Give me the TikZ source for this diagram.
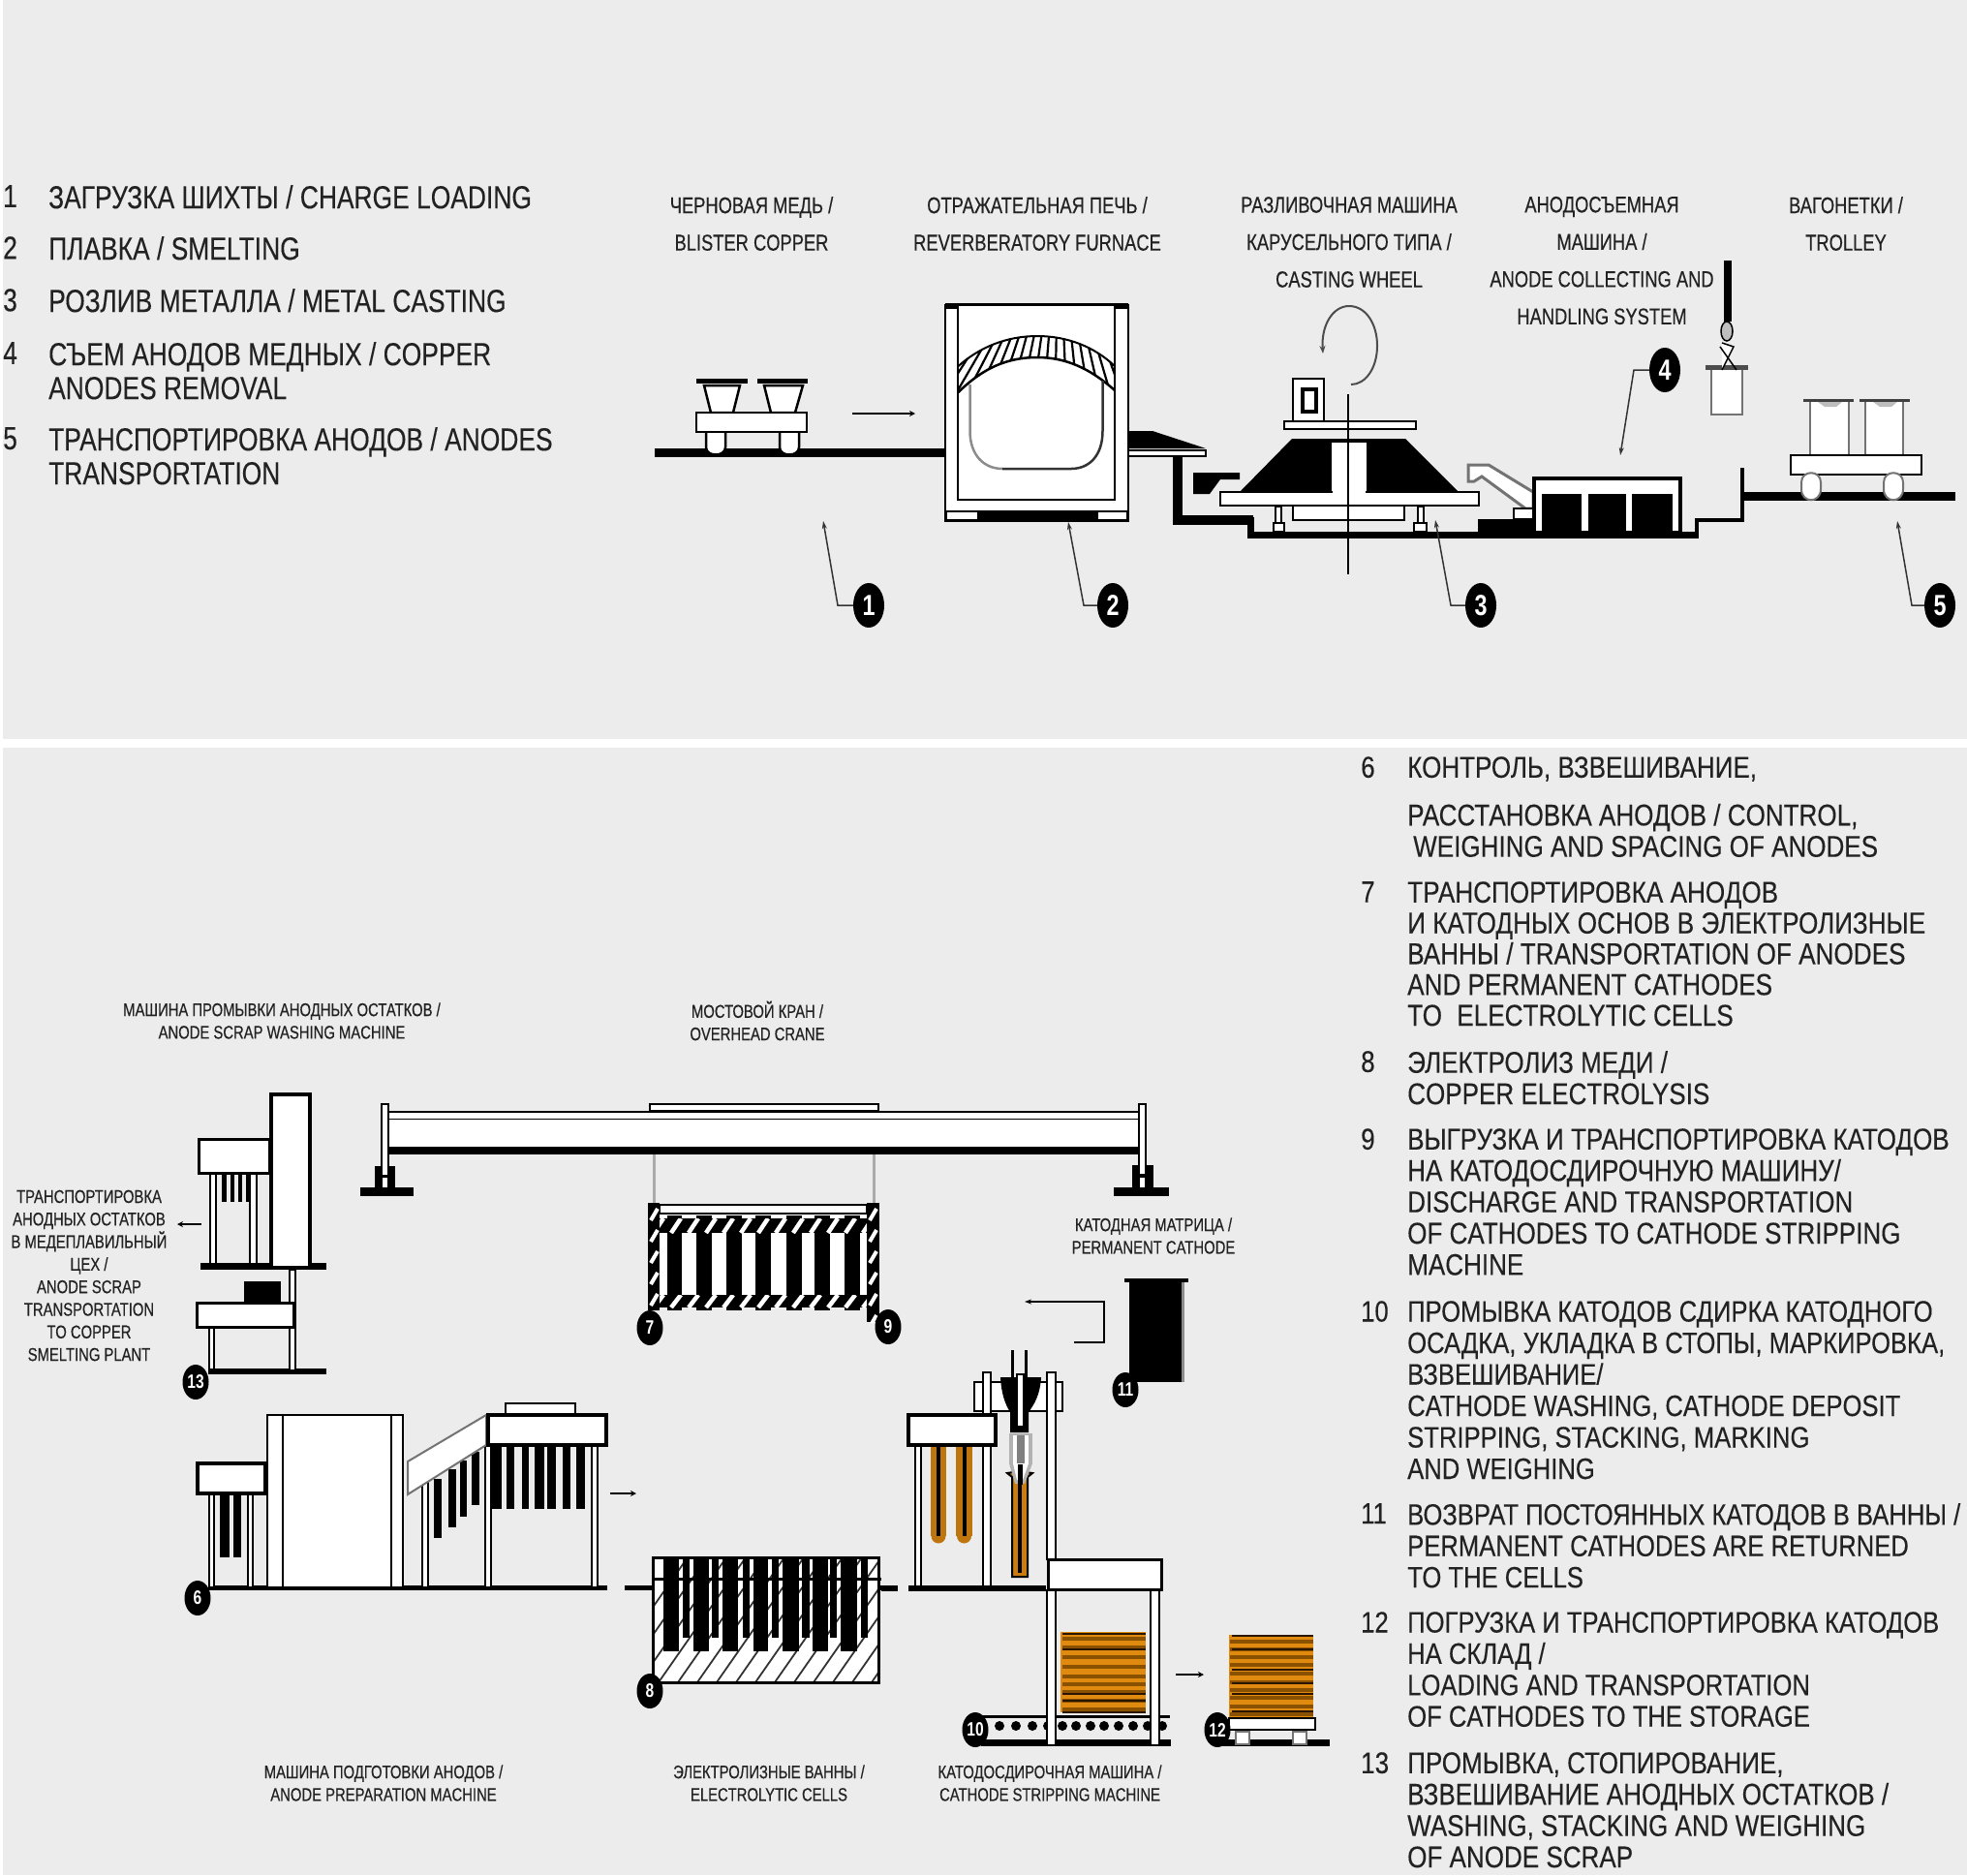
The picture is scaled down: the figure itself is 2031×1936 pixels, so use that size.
\documentclass[tikz,border=0pt]{standalone}
\usepackage{fontspec}
\setmainfont{Liberation Sans}[FakeStretch=0.78]
\newfontfamily\toplistfont{Liberation Sans}[FakeStretch=0.80, FakeBold=0.2]
\newfontfamily\listfont{Liberation Sans}[FakeStretch=0.84, FakeBold=0.2]
\newfontfamily\capfont{Liberation Sans}[FakeStretch=0.78, FakeBold=0.4]
\usepackage{xcolor}
\usepackage{tikz}
\usetikzlibrary{shapes.geometric, arrows.meta, positioning}
\definecolor{panel}{HTML}{ECECEC}
\definecolor{inktext}{HTML}{222222}
\definecolor{copper}{HTML}{E08A10}
\definecolor{copperdark}{HTML}{8A5200}
\definecolor{copperblack}{HTML}{2A1500}
\definecolor{railgray}{HTML}{AAAAAA}

\begin{document}
\begin{tikzpicture}[x=1pt, y=-1pt,
    listtxt/.style = {anchor=north west, inner sep=0pt, align=left, text=inktext,
                      font=\listfont\fontsize{31}{32.4}\selectfont},
    listtight/.style = {listtxt, font=\listfont\fontsize{30.5}{32.4}\selectfont},
    toplist/.style = {listtxt, font=\toplistfont\fontsize{33}{35}\selectfont},
    captop/.style  = {inner sep=0pt, align=center, text=inktext,
                      font=\capfont\fontsize{23.5}{38.5}\selectfont},
    capbot/.style  = {inner sep=0pt, align=center, text=inktext,
                      font=\capfont\fontsize{19}{23.3}\selectfont},
    ball/.style    = {ellipse, fill=black, text=white, inner sep=0pt, minimum width=27pt,
                      minimum height=36pt, font=\fontsize{20}{20}\selectfont\bfseries},
    bigball/.style = {ball, minimum width=32pt, minimum height=46pt,
                      font=\fontsize{30}{30}\selectfont\bfseries},
    part/.style    = {draw=black, line width=4pt, fill=white},
    thinpart/.style= {draw=black, line width=2.5pt, fill=white},
    softpart/.style= {draw=black!55, line width=2pt, fill=white},
    blk/.style     = {fill=black},
    lead/.style    = {draw=black!80, line width=1.5pt, -{Stealth[length=8pt,width=5pt]}},
    flow/.style    = {draw=black, line width=2.5pt, -{Stealth[length=6pt,width=6pt]}}
  ]
  \useasboundingbox (0,0) rectangle (2031,1936);

  % -- Panels -----------------------------------------------------------------
  \fill[white] (0,0) rectangle (2031,1936);
  \fill[panel] (3,0) rectangle (2031,763);
  \fill[panel] (3,772) rectangle (2031,1936);

  % -- List 1-5 ---------------------------------------------------------------
  \node[toplist] (n1) at (3,191) {1};
  \node[toplist] (l1) at (50,191) {ЗАГРУЗКА ШИХТЫ / CHARGE LOADING};
  \node[toplist] (n2) at (3,244) {2};
  \node[toplist] (l2) at (50,244) {ПЛАВКА / SMELTING};
  \node[toplist] (n3) at (3,298) {3};
  \node[toplist] (l3) at (50,298) {РОЗЛИВ МЕТАЛЛА / METAL CASTING};
  \node[toplist] (n4) at (3,353) {4};
  \node[toplist] (l4) at (50,353) {СЪЕМ АНОДОВ МЕДНЫХ / COPPER\\ANODES REMOVAL};
  \node[toplist] (n5) at (3,441) {5};
  \node[toplist] (l5) at (50,441) {ТРАНСПОРТИРОВКА АНОДОВ / ANODES\\TRANSPORTATION};

  % -- List 6-13 --------------------------------------------------------------
  \node[listtxt] (n6) at (1405,781) {6};
  \node[listtxt] (l6) at (1453,781) {КОНТРОЛЬ, ВЗВЕШИВАНИЕ,\\[17pt]РАССТАНОВКА АНОДОВ / CONTROL,\\\hspace{6pt}WEIGHING AND SPACING OF ANODES};
  \node[listtxt] (n7) at (1405,910) {7};
  \node[listtxt, font=\listfont\fontsize{31.1}{31.8}\selectfont] (l7) at (1453,910) {ТРАНСПОРТИРОВКА АНОДОВ\\И КАТОДНЫХ ОСНОВ В ЭЛЕКТРОЛИЗНЫЕ\\ВАННЫ / TRANSPORTATION OF ANODES\\AND PERMANENT CATHODES\\TO\hspace{8pt} ELECTROLYTIC CELLS};
  \node[listtxt] (n8) at (1405,1085) {8};
  \node[listtxt] (l8) at (1453,1085) {ЭЛЕКТРОЛИЗ МЕДИ /\\COPPER ELECTROLYSIS};
  \node[listtxt] (n9) at (1405,1165) {9};
  \node[listtxt] (l9) at (1453,1165) {ВЫГРУЗКА И ТРАНСПОРТИРОВКА КАТОДОВ\\НА КАТОДОСДИРОЧНУЮ МАШИНУ/\\DISCHARGE AND TRANSPORTATION\\OF CATHODES TO CATHODE STRIPPING\\MACHINE};
  \node[listtight] (n10) at (1405,1343) {10};
  \node[listtxt, font=\listfont\fontsize{30.5}{32.5}\selectfont] (l10) at (1453,1343) {ПРОМЫВКА КАТОДОВ СДИРКА КАТОДНОГО\\ОСАДКА, УКЛАДКА В СТОПЫ, МАРКИРОВКА,\\ВЗВЕШИВАНИЕ/\\CATHODE WASHING, CATHODE DEPOSIT\\STRIPPING, STACKING, MARKING\\AND WEIGHING};
  \node[listtight] (n11) at (1405,1552) {11};
  \node[listtight] (l11) at (1453,1552) {ВОЗВРАТ ПОСТОЯННЫХ КАТОДОВ В ВАННЫ /\\PERMANENT CATHODES ARE RETURNED\\TO THE CELLS};
  \node[listtight] (n12) at (1405,1664) {12};
  \node[listtight] (l12) at (1453,1664) {ПОГРУЗКА И ТРАНСПОРТИРОВКА КАТОДОВ\\НА СКЛАД /\\LOADING AND TRANSPORTATION\\OF CATHODES TO THE STORAGE};
  \node[listtxt] (n13) at (1405,1809) {13};
  \node[listtxt] (l13) at (1453,1809) {ПРОМЫВКА, СТОПИРОВАНИЕ,\\ВЗВЕШИВАНИЕ АНОДНЫХ ОСТАТКОВ /\\WASHING, STACKING AND WEIGHING\\OF ANODE SCRAP};

  % -- Top captions -----------------------------------------------------------
  \node[captop] (capblister) at (776,231) {ЧЕРНОВАЯ МЕДЬ /\\BLISTER COPPER};
  \node[captop] (capfurnace) at (1071,231) {ОТРАЖАТЕЛЬНАЯ ПЕЧЬ /\\REVERBERATORY FURNACE};
  \node[captop] (capwheel) at (1393,250) {РАЗЛИВОЧНАЯ МАШИНА\\КАРУСЕЛЬНОГО ТИПА /\\CASTING WHEEL};
  \node[captop] (capcollect) at (1654,269) {АНОДОСЪЕМНАЯ\\МАШИНА /\\ANODE COLLECTING AND\\HANDLING SYSTEM};
  \node[captop] (captrolley) at (1906,231) {ВАГОНЕТКИ /\\TROLLEY};

  % -- Blister copper trolley -------------------------------------------------
  \fill[blk] (676,463) rectangle (976,472);
  \draw[thinpart] (729,447) .. controls (729,441) and (749,441) .. (749,447) -- (749,462) .. controls (749,472) and (729,472) .. (729,462) -- cycle;
  \draw[thinpart] (805,447) .. controls (805,441) and (825,441) .. (825,447) -- (825,462) .. controls (825,472) and (805,472) .. (805,462) -- cycle;
  \draw[thinpart] (727,398) -- (734,426) -- (757,426) -- (764,398) -- cycle;
  \draw[thinpart] (789,398) -- (796,426) -- (821,426) -- (829,398) -- cycle;
  \fill[blk] (719,391) rectangle (772,396);
  \fill[blk] (782,391) rectangle (834,396);
  \draw[thinpart] (719,426) rectangle (833,446);
  \coordinate (a1s) at (880,427);
  \coordinate (a1e) at (945,427);
  \draw[flow] (a1s) -- (a1e);

  % -- Reverberatory furnace --------------------------------------------------
  \draw[thinpart] (976,315) rectangle (1165,538);
  \fill[blk] (976,313) rectangle (1165,319);
  \draw[thinpart] (989,315) rectangle (1151,516);
  \fill[blk] (976,527) rectangle (1165,538);
  \fill[white] (978,529) rectangle (1009,536);
  \fill[white] (1134,529) rectangle (1163,536);
  \begin{scope}
    \clip (989.5,378) .. controls (1012,358) and (1040,347) .. (1071,347) .. controls (1102,347) and (1130,358) .. (1151,378) -- (1151,403) .. controls (1125,380) and (1100,369) .. (1071,369) .. controls (1040,369) and (1015,380) .. (989.5,405) -- cycle;
    \foreach \k in {950,960,...,1190}
      \draw[black, line width=2.2pt] (1093,224) -- ({1093+(\k-1093)*1.4},{224+224});
  \end{scope}
  \draw[black, line width=2pt] (989.5,378) .. controls (1012,358) and (1040,347) .. (1071,347) .. controls (1102,347) and (1130,358) .. (1151,378);
  \fill[white] (1001.5,397) .. controls (1020,380) and (1045,369) .. (1071,369) .. controls (1097,369) and (1120,380) .. (1138.5,393) -- (1138.5,445) .. controls (1138.5,470) and (1125,484) .. (1106,484) -- (1035,484) .. controls (1016,484) and (1001.5,470) .. (1001.5,445) -- cycle;
  \draw[black, line width=2.5pt] (989.5,405) .. controls (1015,380) and (1040,369) .. (1071,369) .. controls (1100,369) and (1125,380) .. (1151,403);
  \draw[black!45, line width=2.5pt] (1001.5,397) -- (1001.5,445) .. controls (1001.5,470) and (1016,484) .. (1035,484);
  \draw[black!80, line width=2.5pt] (1035,484) -- (1106,484) .. controls (1125,484) and (1138.5,470) .. (1138.5,445) -- (1138.5,393);

  % -- Launder and floor ------------------------------------------------------
  \fill[blk] (1165,445) -- (1190,445) -- (1245,463) -- (1165,463) -- cycle;
  \draw[thinpart, line width=2pt] (1165,465) rectangle (1245,471);
  \draw[black, line width=10pt] (1216,472) -- (1216,537) -- (1294,537);
  \draw[black, line width=7pt] (1291,534) -- (1291,552) -- (1754,552);
  \draw[black, line width=4pt] (1752,552) -- (1752,537) -- (1799,537) -- (1799,483);
  \fill[blk] (1232,488) -- (1280,488) -- (1280,495) -- (1260,495) -- (1249,510) -- (1232,510) -- cycle;
  \fill[blk] (1799,508) rectangle (2019,517);

  % -- Casting wheel ----------------------------------------------------------
  \fill[blk] (1280,508) -- (1334,453) -- (1451,453) -- (1506,508) -- cycle;
  \fill[white] (1375,457) rectangle (1411,508);
  \draw[thinpart] (1335,522) rectangle (1450,537);
  \draw[thinpart] (1260,508) rectangle (1527,522);
  \fill[white] (1376,505) rectangle (1410,511);
  \draw[thinpart, line width=2pt] (1317,523) rectangle (1323,540);
  \draw[thinpart, line width=2pt] (1464,523) rectangle (1470,540);
  \draw[thinpart, line width=2pt] (1315,540) rectangle (1326,549);
  \draw[thinpart, line width=2pt] (1460,540) rectangle (1473,549);
  \draw[thinpart, line width=2pt] (1326,435) rectangle (1462,443);
  \draw[thinpart, line width=2pt] (1335,391) rectangle (1367,435);
  \draw[black, line width=4pt, fill=white] (1345,402) rectangle (1359,425);
  \coordinate (axtop) at (1392,407);
  \coordinate (axbot) at (1392,593);
  \draw[black, line width=1.5pt] (axtop) -- (axbot);
  \draw[draw=black!70, line width=2pt, -{Stealth[length=8pt,width=6pt]}] (1395,397) .. controls (1410,397) and (1422,380) .. (1422,357) .. controls (1422,334) and (1410,316) .. (1393,316) .. controls (1376,316) and (1364,336) .. (1366,365);

  % -- Anode collecting machine -----------------------------------------------
  \fill[blk] (1526,536) rectangle (1585,550);
  \draw[softpart, line width=3pt] (1516,480) -- (1537,480) -- (1583,508) -- (1583,525) -- (1575,525) -- (1530,492) -- (1522,497) -- (1516,497) -- cycle;
  \draw[thinpart] (1563,525) rectangle (1583,536);
  \draw[thinpart, line width=3.5pt] (1584,494) rectangle (1735,550);
  \fill[blk] (1592,510) rectangle (1633,550);
  \fill[blk] (1640,510) rectangle (1679,550);
  \fill[blk] (1685,510) rectangle (1727,550);

  % -- Hook and ladle ---------------------------------------------------------
  \fill[blk] (1780,269) rectangle (1788,332);
  \draw[softpart, line width=2pt] (1767,380) -- (1767,428) -- (1799,428) -- (1799,380) -- cycle;
  \fill[black!70] (1761,377) rectangle (1805,382);
  \draw[black, line width=1.5pt, fill=white] (1778,382) -- (1790,358) -- (1778,354);
  \draw[black, line width=1.5pt] (1793,382) -- (1776,358);
  \draw[black, line width=1.5pt, fill=black!25] (1783,342) ellipse [x radius=6pt, y radius=10pt];

  % -- Anode trolley ----------------------------------------------------------
  \draw[softpart] (1869,414) -- (1869,475) -- (1909,475) -- (1909,414) -- cycle;
  \draw[softpart] (1926,414) -- (1926,475) -- (1965,475) -- (1965,414) -- cycle;
  \fill[black!75] (1862,412) rectangle (1914,415);
  \fill[black!75] (1920,412) rectangle (1972,415);
  \fill[panel!80!black] (1877,415) -- (1884,420) -- (1896,420) -- (1902,415) -- cycle;
  \fill[panel!80!black] (1934,415) -- (1941,420) -- (1953,420) -- (1959,415) -- cycle;
  \draw[thinpart] (1849,470) rectangle (1984,490);
  \draw[softpart] (1860,498) .. controls (1860,485) and (1880,485) .. (1880,498) -- (1880,505) .. controls (1880,520) and (1860,520) .. (1860,505) -- cycle;
  \draw[softpart] (1945,498) .. controls (1945,485) and (1965,485) .. (1965,498) -- (1965,505) .. controls (1965,520) and (1945,520) .. (1945,505) -- cycle;

  % -- Callouts 1-5 -----------------------------------------------------------
  \node[bigball] (b1) at (897,625) {1};
  \coordinate (t1) at (850,538);
  \draw[lead] (b1.west) -- (865,625) -- (t1);
  \node[bigball] (b2) at (1149,625) {2};
  \coordinate (t2) at (1103,539);
  \draw[lead] (b2.west) -- (1119,625) -- (t2);
  \node[bigball] (b3) at (1529,625) {3};
  \coordinate (t3) at (1482,537);
  \draw[lead] (b3.west) -- (1498,625) -- (t3);
  \node[bigball] (b4) at (1719,382) {4};
  \coordinate (t4) at (1673,470);
  \draw[lead] (b4.west) -- (1687,382) -- (t4);
  \node[bigball] (b5) at (2003,625) {5};
  \coordinate (t5) at (1959,538);
  \draw[lead] (b5.west) -- (1974,625) -- (t5);

  % -- Bottom captions --------------------------------------------------------
  \node[capbot] (capwash) at (291,1054) {МАШИНА ПРОМЫВКИ АНОДНЫХ ОСТАТКОВ /\\ANODE SCRAP WASHING MACHINE};
  \node[capbot] (capcrane) at (782,1054) {МОСТОВОЙ КРАН /\\OVERHEAD CRANE};
  \node[capbot] (capcath) at (1191,1276) {КАТОДНАЯ МАТРИЦА /\\PERMANENT CATHODE};
  \node[capbot] (capprep) at (396,1841) {МАШИНА ПОДГОТОВКИ АНОДОВ /\\ANODE PREPARATION MACHINE};
  \node[capbot] (capcells) at (794,1841) {ЭЛЕКТРОЛИЗНЫЕ ВАННЫ /\\ELECTROLYTIC CELLS};
  \node[capbot] (capstrip) at (1084,1841) {КАТОДОСДИРОЧНАЯ МАШИНА /\\CATHODE STRIPPING MACHINE};
  \node[capbot] (capscrap) at (92,1317) {ТРАНСПОРТИРОВКА\\АНОДНЫХ ОСТАТКОВ\\В МЕДЕПЛАВИЛЬНЫЙ\\ЦЕХ /\\ANODE SCRAP\\TRANSPORTATION\\TO COPPER\\SMELTING PLANT};

  % -- Anode scrap washing machine --------------------------------------------
  \fill[blk] (207,1304) rectangle (337,1311);
  \fill[blk] (215,1413) rectangle (337,1419);
  \draw[thinpart] (217,1211) rectangle (223,1305);
  \draw[thinpart] (258,1211) rectangle (265,1305);
  \foreach \a/\b in {229/234, 238/242, 246/250, 254/257}
    \fill[blk] (\a,1212) rectangle (\b,1241);
  \draw[part, line width=3pt] (205,1176) rectangle (278,1211);
  \draw[part] (280,1130) rectangle (320,1309);
  \draw[thinpart] (299,1311) rectangle (305,1415);
  \fill[blk] (252,1323) rectangle (290,1344);
  \draw[thinpart] (216,1370) rectangle (221,1414);
  \draw[part, line width=3pt] (203,1345) rectangle (303,1370);
  \node[ball] (b13) at (202,1427) {13};
  \coordinate (a13s) at (208,1264);
  \coordinate (a13e) at (183,1264);
  \draw[flow] (a13s) -- (a13e);

  % -- Overhead crane ---------------------------------------------------------
  \draw[thinpart, line width=2pt] (671,1140) rectangle (907,1147);
  \draw[black, line width=2.5pt, fill=white] (400,1148) rectangle (1177,1156);
  \fill[white] (400,1156) rectangle (1177,1185);
  \fill[blk] (400,1184) rectangle (1177,1192);
  \fill[blk] (387,1204) rectangle (408,1226);
  \fill[blk] (372,1226) rectangle (427,1235);
  \fill[blk] (1169,1203) rectangle (1191,1226);
  \fill[blk] (1150,1226) rectangle (1207,1235);
  \draw[thinpart, line width=2.5pt] (394,1140) rectangle (401,1214);
  \draw[thinpart, line width=2.5pt] (1176,1140) rectangle (1183,1213);
  \fill[white] (395,1216) rectangle (400,1226);
  \fill[white] (1177,1216) rectangle (1182,1226);
  \draw[railgray, line width=3pt] (675,1192) -- (675,1242);
  \draw[railgray, line width=3pt] (902,1192) -- (902,1242);

  % -- Hanging rack -----------------------------------------------------------
  \fill[white] (681,1253) rectangle (895,1350);
  \foreach \a/\b in {689/704, 719/735, 750/766, 780/796, 812/827.5, 841/857, 872/888}
    \fill[blk] (\a,1255) rectangle (\b,1353);
  \draw[thinpart, line width=2.5pt] (681,1244) rectangle (895,1253);
  \begin{scope}
    \clip (669,1258) rectangle (908,1273);
    \fill[blk] (669,1258) rectangle (908,1273);
    \foreach \k in {675,693,...,900}
      \draw[white, line width=4.5pt] (\k,1273) -- (\k+10,1258);
  \end{scope}
  \begin{scope}
    \clip (669,1337) rectangle (908,1350);
    \fill[blk] (669,1337) rectangle (908,1350);
    \foreach \k in {675,693,...,900}
      \draw[white, line width=4.5pt] (\k,1350) -- (\k+10,1337);
  \end{scope}
  \begin{scope}
    \clip (669,1242) rectangle (681,1353);
    \fill[blk] (669,1242) rectangle (681,1353);
    \foreach \k in {1252,1274,...,1352}
      \draw[white, line width=4pt] (672,\k+8) -- (679,\k-4);
  \end{scope}
  \begin{scope}
    \clip (895,1242) rectangle (908,1365);
    \fill[blk] (895,1242) rectangle (908,1365);
    \foreach \k in {1252,1274,...,1362}
      \draw[white, line width=4pt] (898,\k+8) -- (905,\k-4);
  \end{scope}
  \node[ball] (b7) at (671,1371) {7};
  \node[ball] (b9) at (917,1370) {9};

  % -- Permanent cathode ------------------------------------------------------
  \fill[black!45] (1219,1324) rectangle (1223,1427);
  \fill[blk] (1166,1323) rectangle (1220,1427);
  \fill[blk] (1161,1320) rectangle (1227,1324);
  \node[ball] (b11) at (1162,1435) {11};
  \coordinate (brs) at (1109,1386);
  \coordinate (bre) at (1058,1344);
  \draw[black, line width=2pt, -{Stealth[length=7pt,width=5pt]}] (brs) -| (1140,1344) -- (bre);

  % -- Anode preparation machine ----------------------------------------------
  \fill[blk] (215,1637) rectangle (627,1642);
  \draw[thinpart, line width=2pt] (216,1542) rectangle (221,1639);
  \draw[thinpart, line width=2pt] (256,1542) rectangle (261,1639);
  \foreach \a/\b in {227/237, 241/249}
    \fill[blk] (\a,1543) rectangle (\b,1608);
  \draw[thinpart, line width=3.5pt] (204,1511) rectangle (274,1542);
  \draw[thinpart] (276,1461) rectangle (416,1639);
  \draw[black, line width=2pt] (291.5,1461) -- (291.5,1639);
  \draw[black, line width=2pt] (404,1461) -- (404,1639);
  \draw[thinpart, line width=2pt] (436,1530) rectangle (442,1639);
  \draw[thinpart, line width=2pt] (501,1492) rectangle (507,1639);
  \draw[thinpart, line width=2pt] (611,1492) rectangle (617,1639);
  \fill[blk] (448,1527) rectangle (456,1588);
  \fill[blk] (463,1517) rectangle (471,1577);
  \fill[blk] (475,1508) rectangle (481.5,1566);
  \fill[blk] (487,1499) rectangle (495,1554);
  \foreach \a/\b in {508/518, 523/531, 539/546, 552/561.5, 565/574, 581/589, 595/604}
    \fill[blk] (\a,1492) rectangle (\b,1558);
  \draw[softpart] (421,1509) -- (502,1461) -- (502,1492) -- (421,1543) -- cycle;
  \draw[thinpart, line width=2.5pt] (522,1449) rectangle (594,1461);
  \draw[thinpart, line width=3.5pt] (504,1461) rectangle (626,1492);
  \node[ball] (b6) at (204,1650) {6};
  \coordinate (a6s) at (630,1542);
  \coordinate (a6e) at (657,1542);
  \draw[flow] (a6s) -- (a6e);

  % -- Electrolytic cell ------------------------------------------------------
  \fill[blk] (645,1637) rectangle (675,1642);
  \fill[blk] (906,1637) rectangle (927,1642);
  \fill[white] (674,1608) rectangle (907,1737);
  \begin{scope}
    \clip (674,1608) rectangle (907,1737);
    \foreach \k in {620,640,...,900}
      \draw[black!80, line width=1.8pt] (\k,1737) -- (\k+90,1608);
  \end{scope}
  \foreach \a/\b in {705/712, 735/742, 767/774, 797/804, 828/835.5, 857/864, 889/896}
    \fill[blk] (\a,1608) rectangle (\b,1691);
  \foreach \a/\b in {685/701, 716/732, 746/762, 778/793, 808/825, 839/855, 868/885}
    \fill[blk] (\a,1608) rectangle (\b,1705);
  \draw[black, line width=3pt] (674,1608) rectangle (907,1737);
  \draw[black, line width=3pt] (673,1630) -- (910,1630);
  \node[ball] (b8) at (671,1746) {8};

  % -- Cathode stripping machine ----------------------------------------------
  \fill[blk] (938,1637) rectangle (1080,1643);
  \fill[blk] (910,1637) rectangle (927,1643);
  \draw[thinpart] (945,1492) rectangle (951,1638);
  \draw[thinpart] (1015,1492) rectangle (1023,1638);
  \foreach \a/\m/\b in {961/969/977, 987/995.5/1004} {
    \fill[copper!85!black] (\a,1493) rectangle (\b,1586);
    \fill[copper!85!black] (\m,1586) circle [radius=7.5pt];
    \draw[black, line width=4pt] (\m,1493) -- (\m,1586);
  }
  \draw[black, line width=2pt, fill=copper!90!black] (1045,1525) -- (1040,1521) -- (1046,1520) -- (1053,1530) -- (1060,1520) -- (1066,1521) -- (1061,1525) -- (1061,1628) -- (1045,1628) -- cycle;
  \draw[black, line width=4pt] (1053,1530) -- (1053,1624);
  \fill[black!30] (1042,1480) rectangle (1066,1511);
  \fill[white] (1046,1482) rectangle (1062,1511);
  \fill[black!50] (1050,1482) rectangle (1058,1511);
  \fill[black!30] (1042,1511) -- (1066,1511) -- (1058,1532) -- (1048,1532) -- cycle;
  \fill[white] (1046,1511) -- (1062,1511) -- (1056,1528) -- (1050,1528) -- cycle;
  \fill[blk] (1051,1512) -- (1056,1512) -- (1056,1533) -- (1051,1533) -- cycle;
  \draw[black, line width=3pt] (1045,1394) -- (1045,1424);
  \draw[black, line width=3pt] (1059,1394) -- (1059,1424);
  \draw[thinpart] (1006,1427) rectangle (1097,1457);
  \fill[blk] (1033,1422) -- (1075,1422) .. controls (1074,1440) and (1068,1450) .. (1062,1458) -- (1062,1479) -- (1043,1479) -- (1043,1458) .. controls (1038,1450) and (1034,1440) .. (1033,1422) -- cycle;
  \draw[thinpart] (1050,1419) rectangle (1057,1473);
  \draw[thinpart] (1015,1417) rectangle (1023,1460);
  \draw[thinpart] (1081,1417) rectangle (1090,1610);
  \draw[thinpart, line width=3.5pt] (938,1461) rectangle (1028,1492);

  % -- Conveyor and stack -----------------------------------------------------
  \foreach \k in {1032,1049,1066,1082,1097,1111,1126,1140,1155,1170,1185,1200}
    \fill[blk] (\k,1782) circle [radius=5pt];
  \fill[blk] (1013,1771) rectangle (1208,1774);
  \fill[blk] (1013,1796) rectangle (1209,1803);
  \fill[copper] (1095,1685) rectangle (1183,1768);
  \foreach \k in {1690,1699,1709,1719,1729,1737,1745,1754,1763}
    \fill[copperdark] (1097,\k) rectangle (1183,\k+4);
  \foreach \k in {1686,1702,1748,1755,1767}
    \fill[copperblack] (1097,\k) rectangle (1183,\k+2);
  \draw[thinpart] (1081,1642) rectangle (1090,1802);
  \draw[thinpart] (1188,1642) rectangle (1197,1802);
  \draw[thinpart, line width=3pt] (1082,1610) rectangle (1199,1641);
  \node[ball] (b10) at (1007,1786) {10};

  % -- Cathode trolley --------------------------------------------------------
  \coordinate (a12s) at (1214,1729);
  \coordinate (a12e) at (1243,1729);
  \draw[flow] (a12s) -- (a12e);
  \fill[blk] (1257,1796) rectangle (1373,1803);
  \fill[copper] (1269,1688) rectangle (1356,1773);
  \foreach \k in {1693,1701,1709,1717,1726,1735,1743,1751,1760,1768}
    \fill[copperdark] (1270,\k) rectangle (1356,\k+4);
  \foreach \k in {1688,1702,1723,1737,1748,1766}
    \fill[copperblack] (1272,\k) rectangle (1356,\k+2);
  \draw[softpart] (1276,1788) rectangle (1290,1801);
  \draw[softpart] (1335,1788) rectangle (1349,1801);
  \draw[thinpart] (1269,1774) rectangle (1358,1786);
  \node[ball] (b12) at (1257,1786) {12};
\end{tikzpicture}
\end{document}
